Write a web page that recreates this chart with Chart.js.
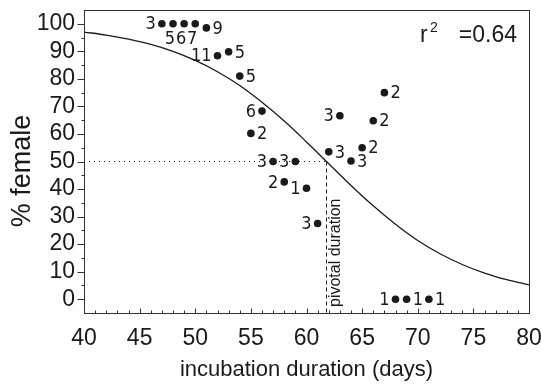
<!DOCTYPE html>
<html>
<head>
<meta charset="utf-8">
<script src="https://cdn.jsdelivr.net/npm/chart.js@4.4.1/dist/chart.umd.min.js"></script>
<style>
    html, body { margin: 0; padding: 0; background: #fff; }
</style>
</head>
<body>
<canvas id="chart" width="541" height="387"></canvas>
<script>
(function () {
    "use strict";

    // Nests: incubation duration (days) vs % female, with number of nests
    const days = [47, 48, 49, 50, 51, 52, 53, 54, 55, 56, 57, 58, 59, 60, 61, 62, 63, 64, 65, 66, 67, 68, 69, 71];
    const femalePct = [100, 100, 100, 100, 98.5, 88.4, 89.8, 81, 60.2, 68.3, 50, 42.6, 50, 40.3, 27.5, 53.5, 66.6, 50.2, 55, 64.8, 75, 0, 0, 0];
    const nestCounts = ["3", "5", "6", "7", "9", "11", "5", "5", "2", "6", "3", "2", "3", "1", "3", "3", "3", "3", "2", "2", "2", "1", "1", "1"];

    // Fitted curve
    const curveDays = [40, 42, 44, 46, 48, 50, 52, 54, 56, 58, 60, 62, 64, 66, 68, 70, 72, 74, 76, 78, 80];
    const curvePct = [97, 95.9, 94.4, 92.5, 90, 86.7, 82.6, 77.6, 71.5, 64.7, 57.1, 49.2, 41.3, 33.9, 27.2, 21.3, 16.5, 12.6, 9.5, 7.1, 5.2];

    // Pivotal duration
    const pivotDay = 61.8;
    const pivotPct = 50;

    const xTicks = [40, 45, 50, 55, 60, 65, 70, 75, 80];
    const yTicks = [0, 10, 20, 30, 40, 50, 60, 70, 80, 90, 100];
    const rSquared = "0.64";

    // where each nest count sits next to its dot
    const labelSide = ["l", "b", "b", "b", "r", "l", "r", "r", "r", "l", "l", "l", "l", "l", "l", "r", "l", "r", "r", "r", "r", "l", "r", "r"];

    const narrow = "'Liberation Sans Narrow', 'DejaVu Sans Condensed', 'Liberation Sans', sans-serif";
    const plain = "'Liberation Sans', Arial, sans-serif";
    const ink = "#1a1a1a";

    const decorations = {
        id: "decorations",
        afterDatasetsDraw(chart) {
            const ctx = chart.ctx;
            const x = chart.scales.x;
            const y = chart.scales.y;
            const { left, right, top, bottom } = chart.chartArea;
            const L = Math.round(left) + 0.5;
            const R = Math.round(right) + 0.5;
            const T = Math.round(top) + 0.5;
            const B = Math.round(bottom) + 0.5;

            ctx.save();
            ctx.strokeStyle = "#333";
            ctx.lineWidth = 1;
            ctx.strokeRect(L, T, R - L, B - T);

            // y ticks, outside
            ctx.beginPath();
            for (let v = 0; v <= 100; v += 5) {
                const py = Math.round(y.getPixelForValue(v)) + 0.5;
                const len = v % 10 === 0 ? 7 : 3;
                ctx.moveTo(L - len, py);
                ctx.lineTo(L, py);
            }
            // x ticks, inside
            for (let d = 41; d < 80; d++) {
                const px = Math.round(x.getPixelForValue(d)) + 0.5;
                const len = d % 5 === 0 ? 5 : 3;
                ctx.moveTo(px, B);
                ctx.lineTo(px, B - len);
            }
            ctx.stroke();

            // nest counts
            const meta = chart.getDatasetMeta(0);
            ctx.fillStyle = ink;
            ctx.font = "18px " + narrow;
            ctx.textBaseline = "middle";
            meta.data.forEach((pt, i) => {
                const side = labelSide[i];
                if (side === "l") {
                    ctx.textAlign = "right";
                    ctx.fillText(nestCounts[i], pt.x - 6, pt.y + 1);
                } else if (side === "r") {
                    ctx.textAlign = "left";
                    ctx.fillText(nestCounts[i], pt.x + 6, pt.y + 1);
                } else {
                    ctx.textAlign = "center";
                    ctx.fillText(nestCounts[i], pt.x - 3, pt.y + 16);
                }
            });

            // pivotal duration label
            ctx.save();
            ctx.translate(x.getPixelForValue(pivotDay) + 9, bottom - 6);
            ctx.rotate(-Math.PI / 2);
            ctx.textAlign = "left";
            ctx.font = "16px " + plain;
            ctx.fillText("pivotal duration", 0, 0);
            ctx.restore();

            // r² annotation
            ctx.textAlign = "left";
            ctx.font = "23px " + plain;
            ctx.fillText("r", 420, 36);
            ctx.font = "14px " + plain;
            ctx.fillText("2", 430, 28);
            ctx.textAlign = "right";
            ctx.font = "23px " + plain;
            ctx.fillText("=" + rSquared, 517, 36);

            // y axis title
            ctx.save();
            ctx.translate(23, 171);
            ctx.rotate(-Math.PI / 2);
            ctx.textAlign = "center";
            ctx.font = "27px " + plain;
            ctx.fillText("% female", 0, 0);
            ctx.restore();

            ctx.restore();
        },
    };

    new Chart(document.getElementById("chart"), {
        type: "scatter",
        data: {
            datasets: [
                {
                    label: "nests",
                    data: days.map((d, i) => ({ x: d, y: femalePct[i] })),
                    pointRadius: 3.8,
                    pointBackgroundColor: ink,
                    pointBorderWidth: 0,
                    showLine: false,
                },
                {
                    label: "fit",
                    type: "line",
                    data: curveDays.map((d, i) => ({ x: d, y: curvePct[i] })),
                    borderColor: ink,
                    borderWidth: 1.3,
                    pointRadius: 0,
                    cubicInterpolationMode: "monotone",
                    fill: false,
                },
                {
                    label: "pivot level",
                    type: "line",
                    data: [{ x: 40, y: pivotPct }, { x: pivotDay, y: pivotPct }],
                    borderColor: ink,
                    borderWidth: 1,
                    borderDash: [1, 4],
                    pointRadius: 0,
                },
                {
                    label: "pivot day",
                    type: "line",
                    data: [{ x: pivotDay, y: pivotPct }, { x: pivotDay, y: -5 }],
                    borderColor: ink,
                    borderWidth: 1,
                    borderDash: [4, 3],
                    pointRadius: 0,
                },
            ],
        },
        options: {
            responsive: false,
            animation: false,
            layout: {
                padding: { top: 10, right: 12, left: 0, bottom: 0 },
            },
            plugins: {
                legend: { display: false },
                tooltip: { enabled: false },
            },
            scales: {
                x: {
                    type: "linear",
                    min: 40,
                    max: 80,
                    afterBuildTicks: (scale) => {
                        scale.ticks = xTicks.map((v) => ({ value: v }));
                    },
                    afterFit: (scale) => {
                        scale.height = 74;
                        scale.paddingLeft = 0;
                        scale.paddingRight = 0;
                    },
                    ticks: {
                        color: ink,
                        padding: 12,
                        maxRotation: 0,
                        autoSkip: false,
                        font: { size: 23, family: plain },
                    },
                    grid: { display: false, drawTicks: false },
                    border: { display: false },
                    title: {
                        display: true,
                        text: "incubation duration (days)",
                        color: ink,
                        font: { size: 22, family: plain },
                        padding: { top: 0, bottom: 4 },
                    },
                },
                y: {
                    min: -5,
                    max: 105,
                    afterBuildTicks: (scale) => {
                        scale.ticks = yTicks.map((v) => ({ value: v }));
                    },
                    afterFit: (scale) => {
                        scale.width = 84;
                        scale.paddingTop = 0;
                        scale.paddingBottom = 0;
                    },
                    ticks: {
                        color: ink,
                        padding: 9,
                        autoSkip: false,
                        font: { size: 23, family: plain },
                    },
                    grid: { display: false, drawTicks: false },
                    border: { display: false },
                },
            },
        },
        plugins: [decorations],
    });
})();
</script>
</body>
</html>
